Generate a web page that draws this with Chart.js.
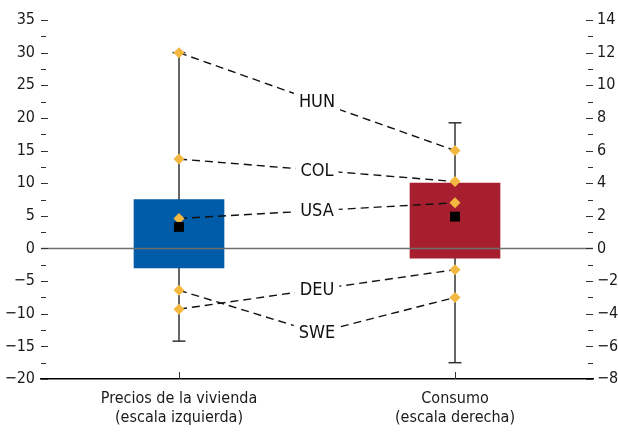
<!DOCTYPE html>
<html>
<head>
<meta charset="utf-8">
<script src="https://cdn.jsdelivr.net/npm/chart.js@4"></script>
<style>
  html, body { margin: 0; padding: 0; background: #fff; }
</style>
</head>
<body>
<canvas id="myChart" width="618" height="433"></canvas>
<script>
// data
const categories = [["Precios de la vivienda", "(escala izquierda)"], ["Consumo", "(escala derecha)"]];
const countries = ["HUN", "COL", "USA", "DEU", "SWE"];
const housing = [30.0, 13.7, 4.6, -9.3, -6.4];      // left scale
const consumption = [6.0, 4.1, 2.8, -1.3, -3.0];    // right scale
const boxLow = [-3.0, -0.6];
const boxHigh = [7.5, 4.0];
const whiskerLow = [-14.2, -7.0];
const whiskerHigh = [30.0, 7.7];
const centre = [3.3, 1.95];
const sweBend = -12.9; // the SWE line dips down to its label
const leftAxis = [-20, 35, 2.5];
const rightAxis = [-8, 14, 1];

// everything is plotted on the left scale, right values are converted
const ratio = (leftAxis[1] - leftAxis[0]) / (rightAxis[1] - rightAxis[0]);
function toLeft(i, v) { return i === 0 ? v : v * ratio; }

function makeTicks(spec) {
    let out = [];
    for (let v = spec[0]; v <= spec[1] + 1e-9; v += spec[2]) out.push({ value: Math.round(v * 100) / 100 });
    return out;
}
function fmt(v) { return String(v).replace("-", "\u2212"); }

let datasets = [];

// black squares
datasets.push({
    type: "line", showLine: false, order: 0,
    data: [0, 1].map(i => ({ x: i, y: toLeft(i, centre[i]) })),
    pointStyle: "rect", pointRadius: 7, pointBackgroundColor: "#000", pointBorderWidth: 0
});

// yellow diamonds
datasets.push({
    type: "line", showLine: false, order: 1,
    data: countries.flatMap((c, k) => [{ x: 0, y: housing[k] }, { x: 1, y: toLeft(1, consumption[k]) }]),
    pointStyle: "rectRot", pointRadius: 5.5, pointBackgroundColor: "#F3B840", pointBorderWidth: 0
});

// dashed connectors, one per country
countries.forEach((c, k) => {
    let a = housing[k], b = toLeft(1, consumption[k]);
    let mid = c === "SWE" ? sweBend : (a + b) / 2;
    datasets.push({
        type: "line", label: c, order: 2, isConnector: true,
        data: [{ x: 0, y: a }, { x: 0.5, y: mid }, { x: 1, y: b }],
        borderColor: "#111", borderWidth: 1.4, borderDash: [8, 5],
        pointRadius: 0, tension: 0
    });
});

// boxes
datasets.push({
    type: "bar", order: 3,
    data: [0, 1].map(i => ({ x: i, y: [toLeft(i, boxLow[i]), toLeft(i, boxHigh[i])] })),
    backgroundColor: ["#005BA8", "#A71F2F"], barThickness: 90
});

// whiskers
[0, 1].forEach(i => {
    datasets.push({
        type: "line", order: 4,
        data: [{ x: i, y: toLeft(i, whiskerLow[i]) }, { x: i, y: toLeft(i, whiskerHigh[i]) }],
        borderColor: "#333", borderWidth: 1.5,
        pointStyle: "line", pointRadius: 6.5, pointBorderColor: "#333", pointBorderWidth: 1.5
    });
});

const framePlugin = {
    id: "frame",
    afterDatasetsDraw(chart) {
        const ctx = chart.ctx;
        const area = chart.chartArea;
        const y = chart.scales.y;
        // zero line
        let y0 = Math.round(y.getPixelForValue(0)) + 0.5;
        ctx.save();
        ctx.strokeStyle = "#6f6f6f";
        ctx.lineWidth = 1.5;
        ctx.beginPath();
        ctx.moveTo(area.left, y0);
        ctx.lineTo(area.right, y0);
        ctx.stroke();

        // country labels on the connectors
        ctx.font = "18px " + Chart.defaults.font.family;
        ctx.textAlign = "center";
        ctx.textBaseline = "middle";
        chart.data.datasets.forEach((ds, i) => {
            if (!ds.isConnector) return;
            let p = chart.getDatasetMeta(i).data[1];
            let w = ctx.measureText(ds.label).width + 10;
            ctx.fillStyle = "#fff";
            ctx.fillRect(p.x - w / 2, p.y - 10, w, 20);
            ctx.fillStyle = "#111";
            ctx.fillText(ds.label, p.x, p.y + 1);
        });
        ctx.restore();
    },
    afterDraw(chart) {
        const ctx = chart.ctx;
        const area = chart.chartArea;
        ctx.save();
        ctx.strokeStyle = "#333";
        ctx.lineWidth = 1;
        ctx.beginPath();
        chart.scales.y.ticks.forEach(t => {
            let py = Math.round(chart.scales.y.getPixelForValue(t.value)) + 0.5;
            let len = t.value % 5 === 0 ? 7 : 5;
            ctx.moveTo(area.left, py);
            ctx.lineTo(area.left + len, py);
        });
        chart.scales.y2.ticks.forEach(t => {
            let py = Math.round(chart.scales.y2.getPixelForValue(t.value)) + 0.5;
            let len = t.value % 2 === 0 ? 7 : 5;
            ctx.moveTo(area.right - len, py);
            ctx.lineTo(area.right, py);
        });
        chart.scales.x.ticks.forEach(t => {
            let px = Math.round(chart.scales.x.getPixelForValue(t.value)) + 0.5;
            ctx.moveTo(px, area.bottom - 7);
            ctx.lineTo(px, area.bottom);
        });
        ctx.stroke();
        ctx.restore();
    }
};

Chart.defaults.font.family = '"Liberation Sans Narrow", "DejaVu Sans Condensed", "Arial Narrow", sans-serif';
Chart.defaults.font.size = 16;
Chart.defaults.color = "#1a1a1a";

let ctx = document.getElementById("myChart").getContext("2d");
let myChart = new Chart(ctx, {
    type: "bar",
    data: { datasets: datasets },
    plugins: [framePlugin],
    options: {
        responsive: false,
        animation: false,
        layout: { padding: { top: 20, left: 0, right: 0, bottom: 0 } },
        plugins: { legend: { display: false }, tooltip: { enabled: false } },
        scales: {
            x: {
                type: "linear", min: -0.5, max: 1.5, offset: false,
                grid: { display: false, drawTicks: false },
                border: { display: true, color: "#000", width: 1.5 },
                afterBuildTicks: s => { s.ticks = [{ value: 0 }, { value: 1 }]; },
                afterFit: s => { s.height = 54; },
                ticks: {
                    autoSkip: false, maxRotation: 0, padding: 10,
                    callback: v => categories[v]
                }
            },
            y: {
                position: "left", min: leftAxis[0], max: leftAxis[1],
                grid: { display: false, drawTicks: false },
                border: { display: false },
                afterBuildTicks: s => { s.ticks = makeTicks(leftAxis); },
                afterFit: s => { s.width = 41; },
                ticks: {
                    autoSkip: false, padding: 6,
                    callback: v => (v % 5 === 0 ? fmt(v) : "")
                }
            },
            y2: {
                position: "right", min: rightAxis[0], max: rightAxis[1],
                grid: { display: false, drawTicks: false },
                border: { display: false },
                afterBuildTicks: s => { s.ticks = makeTicks(rightAxis); },
                afterFit: s => { s.width = 25; },
                ticks: {
                    autoSkip: false, padding: 4,
                    callback: v => (v % 2 === 0 ? fmt(v) : "")
                }
            }
        }
    }
});
</script>
</body>
</html>
